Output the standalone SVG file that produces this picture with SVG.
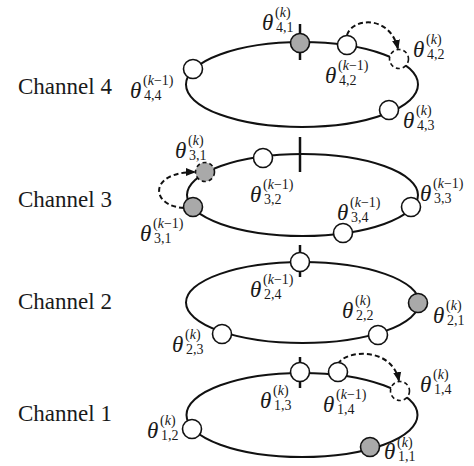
<svg xmlns="http://www.w3.org/2000/svg" width="474" height="466" viewBox="0 0 474 466">
<defs>
<style>
text{font-family:"Liberation Serif","Times New Roman",serif;fill:#1a1a1a}
.ch{font-size:23px}
.th{font-size:23px;font-style:italic}
.sc{font-size:14px}
.it{font-style:italic}
.ell{fill:none;stroke:#111;stroke-width:2}
.tick{stroke:#111;stroke-width:2.5}
.nw{fill:#fff;stroke:#111;stroke-width:1.6}
.ng{fill:#a9a9a9;stroke:#111;stroke-width:1.6}
.dw{fill:#fff;stroke:#111;stroke-width:1.6;stroke-dasharray:4 3}
.dg{fill:#a9a9a9;stroke:#111;stroke-width:1.6;stroke-dasharray:4 3}
.arr{fill:none;stroke:#111;stroke-width:2;stroke-dasharray:5 3;marker-end:url(#ah)}
</style>
<marker id="ah" viewBox="0 0 10 10" refX="9" refY="5" markerWidth="10" markerHeight="10" markerUnits="userSpaceOnUse" orient="auto">
<path d="M0,1 L10,5 L0,9 z" fill="#111"/>
</marker>
</defs>

<g id="channel-labels">
<text class="ch" x="18" y="94">Channel 4</text>
<text class="ch" x="18" y="207">Channel 3</text>
<text class="ch" x="18" y="309">Channel 2</text>
<text class="ch" x="18" y="421">Channel 1</text>
</g>

<g id="rings">
<ellipse class="ell" cx="302" cy="84.5" rx="116" ry="42.5"/>
<ellipse class="ell" cx="302.5" cy="195" rx="115.5" ry="41"/>
<ellipse class="ell" cx="302.5" cy="302.5" rx="116.5" ry="40.5"/>
<ellipse class="ell" cx="302" cy="415" rx="115.5" ry="42"/>
</g>

<g id="ticks">
<line class="tick" x1="300" y1="24" x2="300" y2="60"/>
<line class="tick" x1="300" y1="137" x2="300" y2="172"/>
<line class="tick" x1="300" y1="245" x2="300" y2="277"/>
<line class="tick" x1="300" y1="357" x2="300" y2="388"/>
</g>

<g id="connectors">
<path class="arr" d="M347,35 C352,18 390,14 398,49"/>
<path class="arr" d="M184,208 C150,206 148,172 195,172"/>
<path class="arr" d="M338,364 C345,350 392,346 399,381"/>
</g>

<g id="ch4-nodes">
<circle id="n41" class="ng" cx="300" cy="43" r="9.5"/>
<circle id="n42old" class="nw" cx="347" cy="45" r="9.5"/>
<circle id="n42" class="dw" cx="399" cy="59" r="9.5"/>
<circle id="n43" class="nw" cx="389" cy="110" r="9.5"/>
<circle id="n44" class="nw" cx="193" cy="69" r="9.5"/>
</g>
<g id="ch3-nodes">
<circle id="n31" class="dg" cx="205" cy="172" r="9.5"/>
<circle id="n31old" class="ng" cx="193" cy="207" r="9.5"/>
<circle id="n32" class="nw" cx="263" cy="158" r="9.5"/>
<circle id="n33" class="nw" cx="411" cy="207" r="9.5"/>
<circle id="n34" class="nw" cx="343" cy="233" r="9.5"/>
</g>
<g id="ch2-nodes">
<circle id="n24" class="nw" cx="300" cy="262" r="9.5"/>
<circle id="n21" class="ng" cx="418" cy="303" r="9.5"/>
<circle id="n23" class="nw" cx="222" cy="334" r="9.5"/>
<circle id="n22" class="nw" cx="378" cy="335" r="9.5"/>
</g>
<g id="ch1-nodes">
<circle id="n13" class="nw" cx="300" cy="372" r="9.5"/>
<circle id="n14old" class="nw" cx="338" cy="372" r="9.5"/>
<circle id="n14" class="dw" cx="400" cy="391" r="9.5"/>
<circle id="n12" class="nw" cx="192" cy="429" r="9.5"/>
<circle id="n11" class="ng" cx="370" cy="447" r="9.5"/>
</g>

<g id="labels">
<!-- channel 4 -->
<text class="th" x="262" y="30">θ</text><text class="sc" x="275" y="17">(<tspan class="it">k</tspan>)</text><text class="sc" x="276" y="32">4,1</text>
<text class="th" x="325" y="83">θ</text><text class="sc" x="338" y="70">(<tspan class="it">k</tspan>−1)</text><text class="sc" x="339" y="85">4,2</text>
<text class="th" x="413" y="57">θ</text><text class="sc" x="426" y="44">(<tspan class="it">k</tspan>)</text><text class="sc" x="427" y="59">4,2</text>
<text class="th" x="403" y="128">θ</text><text class="sc" x="416" y="115">(<tspan class="it">k</tspan>)</text><text class="sc" x="417" y="130">4,3</text>
<text class="th" x="130" y="98">θ</text><text class="sc" x="143" y="85">(<tspan class="it">k</tspan>−1)</text><text class="sc" x="144" y="100">4,4</text>
<!-- channel 3 -->
<text class="th" x="175" y="158">θ</text><text class="sc" x="188" y="145">(<tspan class="it">k</tspan>)</text><text class="sc" x="189" y="160">3,1</text>
<text class="th" x="250" y="202">θ</text><text class="sc" x="263" y="189">(<tspan class="it">k</tspan>−1)</text><text class="sc" x="264" y="204">3,2</text>
<text class="th" x="140" y="241">θ</text><text class="sc" x="153" y="228">(<tspan class="it">k</tspan>−1)</text><text class="sc" x="154" y="243">3,1</text>
<text class="th" x="420" y="201">θ</text><text class="sc" x="433" y="188">(<tspan class="it">k</tspan>−1)</text><text class="sc" x="434" y="203">3,3</text>
<text class="th" x="337" y="220">θ</text><text class="sc" x="350" y="207">(<tspan class="it">k</tspan>−1)</text><text class="sc" x="351" y="222">3,4</text>
<!-- channel 2 -->
<text class="th" x="250" y="297">θ</text><text class="sc" x="263" y="284">(<tspan class="it">k</tspan>−1)</text><text class="sc" x="264" y="299">2,4</text>
<text class="th" x="342" y="318">θ</text><text class="sc" x="355" y="305">(<tspan class="it">k</tspan>)</text><text class="sc" x="356" y="320">2,2</text>
<text class="th" x="433" y="323">θ</text><text class="sc" x="446" y="310">(<tspan class="it">k</tspan>)</text><text class="sc" x="447" y="325">2,1</text>
<text class="th" x="172" y="352">θ</text><text class="sc" x="185" y="339">(<tspan class="it">k</tspan>)</text><text class="sc" x="186" y="354">2,3</text>
<!-- channel 1 -->
<text class="th" x="260" y="408">θ</text><text class="sc" x="273" y="395">(<tspan class="it">k</tspan>)</text><text class="sc" x="274" y="410">1,3</text>
<text class="th" x="323" y="412">θ</text><text class="sc" x="336" y="399">(<tspan class="it">k</tspan>−1)</text><text class="sc" x="337" y="414">1,4</text>
<text class="th" x="420" y="392">θ</text><text class="sc" x="433" y="379">(<tspan class="it">k</tspan>)</text><text class="sc" x="434" y="394">1,4</text>
<text class="th" x="147" y="438">θ</text><text class="sc" x="160" y="425">(<tspan class="it">k</tspan>)</text><text class="sc" x="161" y="440">1,2</text>
<text class="th" x="384" y="459">θ</text><text class="sc" x="397" y="447">(<tspan class="it">k</tspan>)</text><text class="sc" x="398" y="461">1,1</text>
</g>
</svg>
